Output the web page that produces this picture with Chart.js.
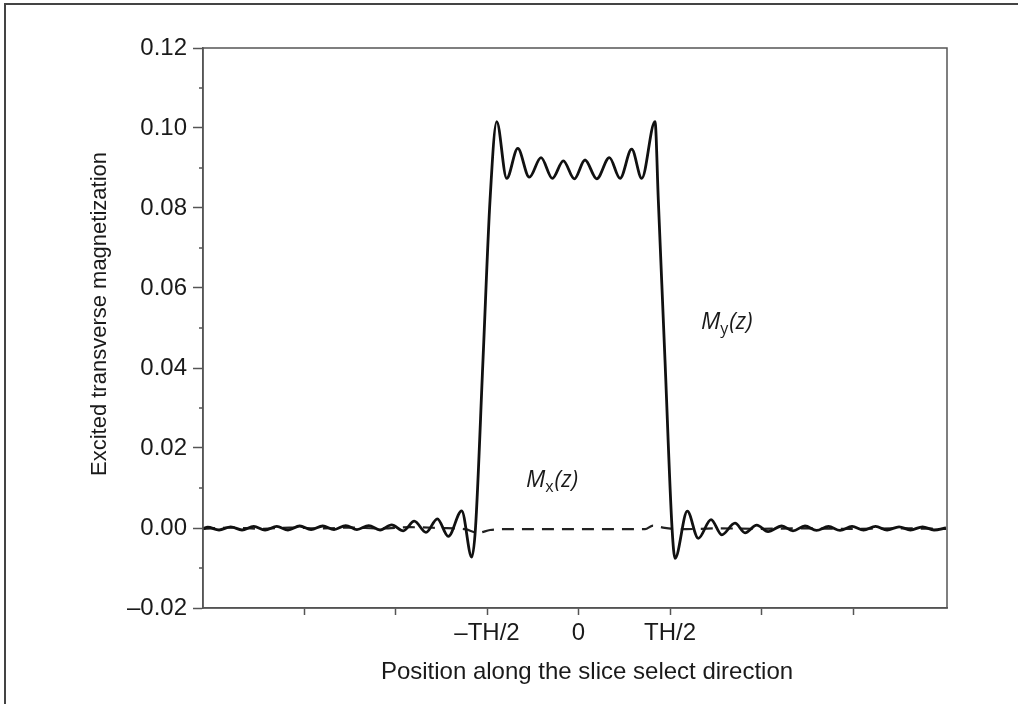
<!DOCTYPE html>
<html>
<head>
<meta charset="utf-8">
<script src="https://cdn.jsdelivr.net/npm/chart.js@4.4.0/dist/chart.umd.min.js"></script>
<style>
html,body{margin:0;padding:0;background:#fff;}
canvas{display:block;}
</style>
</head>
<body>
<canvas id="c" width="1018" height="704"></canvas>
<script>
// x positions are in units of TH/2
const xTickValues = [-3, -2, -1, 0, 1, 2, 3];
const xTickLabels = ['', '', '\u2013TH/2', '0', 'TH/2', '', ''];
const yMajorTicks = [-0.02, 0.00, 0.02, 0.04, 0.06, 0.08, 0.10, 0.12];
const yMinorTicks = [-0.01, 0.01, 0.03, 0.05, 0.07, 0.09, 0.11];

// My(z): solid curve
const myX = [-4.104,-4.052,-3.929,-3.801,-3.678,-3.550,-3.426,-3.298,-3.175,-3.047,-2.923,-2.796,-2.672,-2.544,-2.421,-2.293,-2.169,-2.042,-1.915,-1.795,-1.667,-1.543,-1.423,-1.277,-1.167,-1.126,-1.044,-0.967,-0.894,-0.785,-0.664,-0.538,-0.410,-0.286,-0.166,-0.046,0.071,0.199,0.337,0.454,0.581,0.691,0.836,0.872,0.945,1.022,1.055,1.189,1.309,1.448,1.565,1.710,1.820,1.948,2.071,2.221,2.344,2.475,2.601,2.732,2.858,2.989,3.115,3.246,3.372,3.503,3.628,3.760,3.885,4.016];
const myY = [-0.0002,0.0002,-0.0005,0.0003,-0.0005,0.0004,-0.0005,0.0004,-0.0005,0.0005,-0.0004,0.0005,-0.0004,0.0006,-0.0004,0.0006,-0.0005,0.0008,-0.0007,0.0017,-0.0011,0.0023,-0.0021,0.0043,-0.0073,0.0000,0.0420,0.0820,0.1016,0.0874,0.0949,0.0877,0.0926,0.0874,0.0918,0.0873,0.0920,0.0873,0.0926,0.0874,0.0947,0.0874,0.1016,0.0820,0.0420,0.0000,-0.0076,0.0042,-0.0026,0.0021,-0.0017,0.0012,-0.0012,0.0007,-0.0009,0.0005,-0.0007,0.0005,-0.0006,0.0004,-0.0006,0.0004,-0.0005,0.0004,-0.0005,0.0003,-0.0005,0.0003,-0.0005,0.0000];

// Mx(z): dashed curve
const mxX = [-4.104,-3.809,-3.481,-3.153,-2.825,-2.497,-2.169,-1.842,-1.514,-1.240,-1.098,-0.967,-0.803,0.727,0.814,0.923,1.109,1.546,1.984,2.421,2.967,3.514,4.016];
const mxY = [-0.0002,0.0001,-0.0002,0.0001,-0.0001,0.0001,-0.0001,0.0002,0.0000,-0.0003,-0.0012,-0.0005,-0.0003,-0.0003,0.0006,0.0001,-0.0003,-0.0001,-0.0002,-0.0001,-0.0002,-0.0001,-0.0002];

const FONT = '"Liberation Sans", Arial, Helvetica, sans-serif';
const LFONT = '"Open Sans", "Noto Sans", sans-serif';
const AXIS = '#555';
const TEXT = '#1a1a1a';

const decor = {
  id: 'decor',
  afterDraw(chart) {
    const ctx = chart.ctx;
    const a = chart.chartArea;
    const ys = chart.scales.y;
    ctx.save();
    // outer frame
    ctx.strokeStyle = '#444';
    ctx.lineWidth = 2;
    ctx.beginPath();
    ctx.moveTo(5, 704); ctx.lineTo(5, 4); ctx.lineTo(1018, 4);
    ctx.stroke();
    // plot box
    ctx.strokeStyle = AXIS;
    ctx.lineWidth = 1.5;
    ctx.strokeRect(a.left, a.top, a.right - a.left, a.bottom - a.top);
    // minor y ticks
    ctx.beginPath();
    yMinorTicks.forEach(v => {
      const y = ys.getPixelForValue(v);
      ctx.moveTo(a.left - 4, y); ctx.lineTo(a.left, y);
    });
    ctx.stroke();
    // axis titles
    ctx.fillStyle = TEXT;
    ctx.textAlign = 'center';
    ctx.textBaseline = 'middle';
    ctx.font = '24px ' + FONT;
    ctx.fillText('Position along the slice select direction', 587, 672);
    ctx.save();
    ctx.translate(100, 314);
    ctx.rotate(-Math.PI / 2);
    ctx.font = '22px ' + FONT;
    ctx.fillText('Excited transverse magnetization', 0, 0);
    ctx.restore();
    // curve labels
    const lab = (x, y, sub) => {
      ctx.textAlign = 'left';
      ctx.textBaseline = 'alphabetic';
      ctx.font = 'italic 23px ' + LFONT;
      ctx.fillText('M', x, y);
      x += ctx.measureText('M').width;
      ctx.font = '16px ' + LFONT;
      ctx.fillText(sub, x, y + 5);
      x += ctx.measureText(sub).width + 1;
      ctx.font = 'italic 23px ' + LFONT;
      ctx.fillText('(z)', x, y);
    };
    lab(701, 329, 'y');
    lab(526, 487, 'x');
    ctx.restore();
  }
};

new Chart(document.getElementById('c'), {
  type: 'line',
  data: {
    datasets: [
      {
        label: 'My(z)',
        data: myX.map((x, i) => ({x: x, y: myY[i]})),
        borderColor: '#111',
        borderWidth: 2.8,
        pointRadius: 0,
        cubicInterpolationMode: 'monotone',
        fill: false
      },
      {
        label: 'Mx(z)',
        data: mxX.map((x, i) => ({x: x, y: mxY[i]})),
        borderColor: '#222',
        borderWidth: 2.2,
        borderDash: [12, 8],
        pointRadius: 0,
        cubicInterpolationMode: 'monotone',
        fill: false
      }
    ]
  },
  options: {
    responsive: false,
    animation: false,
    devicePixelRatio: 1,
    layout: {padding: {top: 48, right: 71, left: 0, bottom: 0}},
    plugins: {legend: {display: false}, tooltip: {enabled: false}},
    scales: {
      x: {
        type: 'linear',
        min: -4.104,
        max: 4.027,
        afterBuildTicks: s => { s.ticks = xTickValues.map(v => ({value: v})); },
        afterFit: s => { s.height = 96; },
        ticks: {
          autoSkip: false, maxRotation: 0, padding: 4,
          color: TEXT, font: {family: FONT, size: 24},
          callback: (v, i) => xTickLabels[i]
        },
        grid: {drawOnChartArea: false, tickLength: 7, tickColor: AXIS, tickWidth: 1.5},
        border: {color: AXIS, width: 1.5}
      },
      y: {
        type: 'linear',
        min: -0.02,
        max: 0.12,
        afterBuildTicks: s => { s.ticks = yMajorTicks.map(v => ({value: v})); },
        afterFit: s => { s.width = 203; },
        ticks: {
          padding: 6,
          color: TEXT, font: {family: FONT, size: 24},
          callback: v => (Math.abs(v) < 1e-9 ? '0.00' : v.toFixed(2).replace('-', '\u2013'))
        },
        grid: {drawOnChartArea: false, tickLength: 10, tickColor: AXIS, tickWidth: 1.5},
        border: {color: AXIS, width: 1.5}
      }
    }
  },
  plugins: [decor]
});
</script>
</body>
</html>
